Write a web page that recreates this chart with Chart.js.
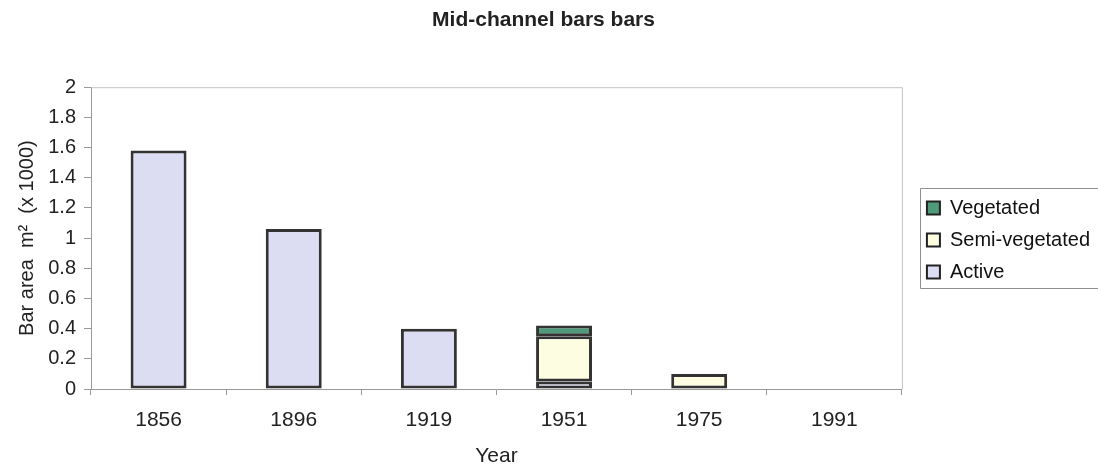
<!DOCTYPE html>
<html>
<head>
<meta charset="utf-8">
<script src="https://cdn.jsdelivr.net/npm/chart.js@4/dist/chart.umd.min.js"></script>
<style>
  html, body { margin: 0; padding: 0; background: #fff; }
  #wrap { width: 1098px; height: 468px; }
</style>
</head>
<body>
<div id="wrap"><canvas id="barsChart"></canvas></div>
<script>
// values in m2 x 1000
const years = ['1856', '1896', '1919', '1951', '1975', '1991'];
const active = [1.58, 1.06, 0.40, 0.05, 0, 0];
const semiVegetated = [0, 0, 0, 0.30, 0.10, 0];
const vegetated = [0, 0, 0, 0.07, 0, 0];
const yTicks = [0, 0.2, 0.4, 0.6, 0.8, 1, 1.2, 1.4, 1.6, 1.8, 2];

const font = 'Arial, "Liberation Sans", sans-serif';

// grey frame on top/right of plot + box round the legend items
const framePlugin = {
    id: 'frames',
    afterLayout(chart) {
        // nudge the legend a bit right/down, the hitboxes get rebuilt after this
        const lg = chart.legend;
        lg.left += 13; lg.right += 13;
        lg.top += 2; lg.bottom += 2;
    },
    afterDraw(chart) {
        const ctx = chart.ctx;
        const a = chart.chartArea;
        ctx.save();
        ctx.strokeStyle = '#c4c4c4';
        ctx.lineWidth = 1;
        ctx.beginPath();
        ctx.moveTo(a.left, a.top + 0.5);
        ctx.lineTo(a.right + 0.5, a.top + 0.5);
        ctx.lineTo(a.right + 0.5, a.bottom);
        ctx.stroke();
        const hb = chart.legend.legendHitBoxes;
        if (hb && hb.length) {
            const first = hb[0], last = hb[hb.length - 1];
            const x = Math.round(first.left - 7) + 0.5;
            const y = Math.round(first.top - 10) + 0.5;
            const y2 = Math.round(last.top + last.height + 6) + 0.5;
            ctx.strokeStyle = '#8f8f8f';
            ctx.beginPath();
            ctx.moveTo(chart.width + 2, y);
            ctx.lineTo(x, y);
            ctx.lineTo(x, y2);
            ctx.lineTo(chart.width + 2, y2);
            ctx.stroke();
        }
        ctx.restore();
    }
};

const ds = (label, data, color) => ({
    label: label,
    data: data,
    backgroundColor: color,
    borderColor: '#333',
    borderWidth: (c) => (c.type === 'data' && !c.raw) ? 0 : 3,
    borderSkipped: false,
    barPercentage: 0.414,
    categoryPercentage: 1.0
});

new Chart(document.getElementById('barsChart'), {
    type: 'bar',
    data: {
        labels: years,
        datasets: [
            ds('Active', active, '#dcdcf2'),
            ds('Semi-vegetated', semiVegetated, '#fdfde2'),
            ds('Vegetated', vegetated, '#4f9a7a')
        ]
    },
    options: {
        responsive: true,
        maintainAspectRatio: false,
        animation: false,
        layout: { padding: { top: 0, right: 11, left: 0, bottom: 0 } },
        plugins: {
            title: {
                display: true,
                text: 'Mid-channel bars bars',
                color: '#222',
                font: { family: font, size: 21, weight: 'bold' },
                padding: { top: 8, bottom: 54 }
            },
            legend: {
                position: 'right',
                fullSize: false,
                reverse: true,
                labels: {
                    color: '#111',
                    font: { family: font, size: 20 },
                    boxWidth: 13,
                    boxHeight: 13,
                    padding: 12,
                    generateLabels(chart) {
                        const items = Chart.defaults.plugins.legend.labels.generateLabels(chart);
                        items.forEach(it => { it.lineWidth = 2; it.strokeStyle = '#222'; });
                        return items;
                    }
                }
            },
            tooltip: { enabled: false }
        },
        scales: {
            x: {
                stacked: true,
                afterFit(axis) { axis.height = 79; },
                grid: {
                    offset: true,
                    drawOnChartArea: false,
                    drawTicks: true,
                    tickLength: 6,
                    color: '#999'
                },
                border: { color: '#999' },
                ticks: { color: '#222', font: { family: font, size: 21 }, padding: 13 },
                title: {
                    display: true,
                    text: 'Year',
                    color: '#222',
                    font: { family: font, size: 21, lineHeight: 1 },
                    padding: { top: 0, bottom: 1 }
                }
            },
            y: {
                stacked: true,
                min: 0,
                max: 2,
                afterFit(axis) { axis.width = 91; },
                afterBuildTicks(axis) {
                    axis.ticks = yTicks.map(v => ({ value: v }));
                },
                grid: {
                    drawOnChartArea: false,
                    drawTicks: true,
                    tickLength: 7,
                    color: '#999'
                },
                border: { color: '#999' },
                ticks: {
                    color: '#222',
                    font: { family: font, size: 20 },
                    padding: 8,
                    callback: (v) => String(Math.round(v * 10) / 10)
                },
                title: {
                    display: true,
                    text: 'Bar area  m²  (x 1000)',
                    color: '#222',
                    font: { family: font, size: 20 },
                    padding: { top: 15, bottom: 0 }
                }
            }
        }
    },
    plugins: [framePlugin]
});
</script>
</body>
</html>
